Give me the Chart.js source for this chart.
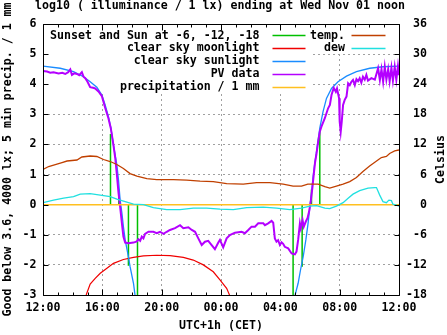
<!DOCTYPE html>
<html>
<head>
<meta charset="utf-8">
<script src="https://cdn.jsdelivr.net/npm/chart.js@4.4.0/dist/chart.umd.min.js"></script>
<style>
  html, body { margin: 0; padding: 0; background: #fff; }
  canvas { display: block; }
</style>
</head>
<body>
<canvas id="chart" width="447" height="335"></canvas>
<script>
// x values are hours after 12:00 CET (0 .. 24)

// sunset / sun at -6, -12, -18 (evening), then -18, -12, -6, sunrise (morning)
const sunEventHours = [4.55, 5.11, 5.76, 6.37, 16.86, 17.47, 18.10, 18.66];
const sunEventValues = [2.35, 0.51, -2.03, -3.3, -3.3, -2.06, 0.50, 2.50];

const moonHours = [2.91, 3.18, 3.52, 3.86, 4.31, 4.75, 5.42, 6.10, 6.77, 7.67, 8.57, 9.46, 10.13, 10.81, 11.48, 11.93, 12.38, 12.60];
const moonValues = [-3.0, -2.64, -2.45, -2.28, -2.11, -1.95, -1.82, -1.75, -1.70, -1.68, -1.69, -1.75, -1.84, -2.0, -2.23, -2.5, -2.78, -3.03];

const sunHours = [0, 1.16, 2.06, 2.73, 3.18, 3.63, 3.97, 4.19, 4.41, 4.58,
  4.75, 4.98, 5.09, 5.20, 5.32, 5.42, 5.54, 5.76, 5.87, 6.10,
  6.21, 11.5, 16.98, 17.20, 17.36, 17.54, 17.72, 17.87, 17.99, 18.10,
  18.21, 18.32, 18.44, 18.66, 18.88, 19.11, 19.45, 19.89, 20.46, 21.13,
  22.03, 22.92, 24.00];
const sunValues = [4.60, 4.53, 4.42, 4.25, 4.08, 3.90, 3.64, 3.31, 2.92, 2.54,
  1.98, 1.32, 0.82, 0.15, -0.28, -0.73, -1.17, -1.73, -2.06, -2.61,
  -3.03, null, -3.03, -2.61, -2.17, -1.73, -1.17, -0.62, -0.07, 0.38,
  0.93, 1.37, 1.76, 2.54, 3.09, 3.53, 3.86, 4.08, 4.27, 4.42,
  4.53, 4.58, 4.60];

const pvHours = [0, 0.27, 0.49, 0.71, 1.05, 1.30, 1.50, 1.70, 1.84, 1.95,
  2.11, 2.29, 2.44, 2.62, 2.73, 2.85, 3.00, 3.18, 3.38, 3.52,
  3.74, 3.97, 4.19, 4.41, 4.57, 4.75, 4.87, 4.98, 5.09, 5.20,
  5.32, 5.42, 5.54, 5.76, 6.10, 6.33, 6.43, 6.55, 6.66, 6.77,
  6.88, 7.11, 7.44, 7.67, 7.89, 8.12, 8.34, 8.56, 8.90, 9.24,
  9.46, 9.80, 10.03, 10.25, 10.47, 10.70, 10.92, 11.14, 11.37, 11.59,
  11.82, 11.93, 12.15, 12.38, 12.60, 12.94, 13.39, 13.61, 13.84, 14.06,
  14.29, 14.51, 14.85, 14.96, 15.18, 15.41, 15.52, 15.63, 15.74, 15.85,
  15.97, 16.08, 16.19, 16.30, 16.53, 16.76, 16.98, 17.09, 17.20, 17.32,
  17.38, 17.50, 17.58, 17.72, 17.83, 17.94, 18.06, 18.17, 18.26, 18.34,
  18.44, 18.55, 18.66, 18.77, 19.00, 19.22, 19.34, 19.45, 19.60, 19.74,
  19.82, 19.96, 20.00, 20.07, 20.14, 20.23, 20.34, 20.46, 20.57, 20.68,
  20.79, 20.90, 21.02, 21.13, 21.24, 21.35, 21.46, 21.57, 21.69, 21.80,
  21.91, 22.14, 22.37, 22.59, 22.71, 22.82, 22.93, 23.04, 23.15, 23.27,
  23.37, 23.49, 23.59, 23.71, 23.82, 23.93, 24.00];
const pvValues = [4.44, 4.42, 4.38, 4.40, 4.36, 4.38, 4.34, 4.40, 4.49, 4.31,
  4.36, 4.34, 4.30, 4.40, 4.25, 4.20, 4.08, 3.90, 3.88, 3.86,
  3.76, 3.60, 3.22, 2.87, 2.54, 1.98, 1.55, 1.00, 0.40, -0.07,
  -0.62, -1.06, -1.26, -1.28, -1.26, -1.22, -1.15, -1.20, -1.06, -1.12,
  -0.97, -0.90, -0.90, -0.95, -0.90, -0.97, -0.90, -0.84, -0.78, -0.68,
  -0.78, -0.75, -0.84, -0.90, -1.12, -1.34, -1.23, -1.20, -1.34, -1.48,
  -1.26, -1.17, -1.42, -1.12, -1.01, -0.93, -0.90, -0.95, -0.84, -0.73,
  -0.73, -0.62, -0.62, -0.68, -0.62, -0.54, -0.60, -1.12, -1.23, -1.18,
  -1.34, -1.25, -1.30, -1.40, -1.45, -1.62, -1.65, -1.56, -1.17, -0.62,
  -0.78, -0.51, -0.73, -0.56, -0.45, -0.23, 0.15, 0.60, 1.04, 1.40,
  1.70, 2.09, 2.42, 2.59, 2.87, 3.20, 3.31, 3.64, 3.88, 3.75,
  3.86, 3.53, 2.76, 2.42, 2.76, 3.31, 3.48, 3.59, 4.03, 3.97,
  4.08, 4.14, 3.97, 4.17, 4.10, 4.20, 4.05, 4.25, 4.15, 4.31,
  4.12, 4.20, 4.15, 4.53, 4.14, 4.50, 4.08, 4.58, 4.15, 4.50,
  4.10, 4.55, 4.12, 4.58, 4.15, 4.60, 4.30];

const precipHours = [0, 6, 12, 18, 24];
const precipValues = [0, 0, 0, 0, 0];

// Celsius, right axis
const tempHours = [0, 0.38, 0.83, 1.28, 1.62, 2.29, 2.62, 3.18, 3.63, 4.08,
  4.53, 4.98, 5.42, 5.87, 6.33, 7.00, 7.67, 8.79, 9.69, 10.59,
  11.48, 12.38, 13.50, 14.40, 15.30, 16.19, 16.86, 17.43, 17.85, 18.55,
  19.00, 19.33, 19.78, 20.23, 20.68, 21.13, 21.57, 22.02, 22.58, 22.81,
  23.15, 23.37, 23.71, 24.00];
const tempValues = [7.0, 7.6, 8.0, 8.4, 8.7, 8.9, 9.5, 9.7, 9.6, 9.0,
  8.6, 8.0, 7.2, 6.2, 5.7, 5.2, 5.0, 5.0, 4.9, 4.7,
  4.6, 4.2, 4.1, 4.4, 4.4, 4.1, 3.7, 3.7, 4.1, 4.1,
  3.6, 3.3, 3.7, 4.1, 4.6, 5.4, 6.6, 7.7, 8.9, 9.4,
  9.6, 10.2, 10.7, 10.9];

const dewHours = [0, 0.71, 1.39, 2.06, 2.51, 3.18, 3.86, 4.53, 4.98, 5.54,
  6.10, 6.77, 7.44, 8.34, 9.24, 10.13, 11.04, 11.93, 12.83, 13.73,
  14.85, 15.75, 16.64, 17.43, 17.99, 18.44, 19.00, 19.33, 19.78, 20.23,
  20.57, 20.90, 21.35, 21.91, 22.36, 22.48, 22.70, 22.92, 23.15, 23.32,
  23.49, 23.59, 23.82, 24.00];
const dewValues = [0.4, 0.9, 1.3, 1.6, 2.1, 2.2, 1.9, 1.6, 1.1, 0.6,
  0.1, 0.0, -0.6, -1.0, -1.0, -0.7, -0.7, -0.9, -1.0, -0.6,
  -0.5, -0.7, -1.0, -0.7, -0.3, -0.2, -0.7, -0.8, -0.3, 0.4,
  1.3, 2.1, 2.8, 3.3, 3.4, 3.4, 1.9, 0.6, 0.4, 0.9,
  0.8, 0.1, -0.1, -0.3];

const xTicks = [0, 4, 8, 12, 16, 20, 24];

const TITLE = 'log10 ( illuminance / 1 lx) ending at Wed Nov 01 noon';
const FONT = { family: '"DejaVu Sans Mono", monospace', size: 11.6, weight: 'bold' };
const CSS_FONT = `bold ${FONT.size}px ${FONT.family}`;
Chart.defaults.font = FONT;
Chart.defaults.color = '#000';

const pts = (xs, ys) => xs.map((x, i) => ({ x, y: ys[i] }));

// vertical impulses from 0 to the value
const sunEventPts = [];
sunEventHours.forEach((h, i) => {
  sunEventPts.push({ x: h, y: 0 }, { x: h, y: sunEventValues[i] }, { x: h, y: null });
});

const line = (label, data, color, width, order, yAxisID) => ({
  label, data, borderColor: color, backgroundColor: color, borderWidth: width,
  pointRadius: 0, fill: false, tension: 0, spanGaps: false, order,
  yAxisID: yAxisID || 'y', clip: 0
});

const datasets = [
  line('Sunset and Sun at -6, -12, -18', sunEventPts, '#00c000', 1.5, 6),
  line('clear sky moonlight', pts(moonHours, moonValues), '#f00000', 1.2, 5),
  line('clear sky sunlight', pts(sunHours, sunValues), '#1a8cff', 1.3, 4),
  line('PV data', pts(pvHours, pvValues), '#b400ff', 2, 3),
  line('precipitation / 1 mm', pts(precipHours, precipValues), '#ffc020', 1.5, 2),
  line('temp.', pts(tempHours, tempValues), '#c04000', 1.3, 1, 'y2'),
  line('dew', pts(dewHours, dewValues), '#20e0e0', 1.3, 0, 'y2')
];

// legend columns: text right-aligned, sample line to its right
const legendCols = [
  { items: [0, 1, 2, 3, 4], textRight: 259.5, lineX: [272.5, 305.5] },
  { items: [5, 6], textRight: 345, lineX: [351.5, 385.5] }
];
const legendTop = 35.5, legendStep = 12.9;

const snap = v => Math.round(v) + 0.5;

const decor = {
  id: 'decor',
  beforeDatasetsDraw(chart) {
    const { ctx, chartArea: a } = chart;
    ctx.save();
    ctx.fillStyle = '#fff';
    ctx.fillRect(a.left + 1, a.top + 1, 312 - a.left - 1, 93 - a.top - 1);
    ctx.fillRect(312, a.top + 1, 80, 54 - a.top - 1);
    ctx.restore();
  },
  afterDatasetsDraw(chart) {
    const { ctx } = chart;
    ctx.save();
    ctx.font = CSS_FONT;
    ctx.textAlign = 'right';
    ctx.textBaseline = 'middle';
    ctx.fillStyle = '#000';
    legendCols.forEach(col => {
      col.items.forEach((di, r) => {
        const ds = chart.data.datasets[di];
        const y = legendTop + r * legendStep;
        ctx.fillText(ds.label, col.textRight, y);
        ctx.strokeStyle = ds.borderColor;
        ctx.lineWidth = 1.3;
        ctx.beginPath();
        ctx.moveTo(col.lineX[0], snap(y - 0.5));
        ctx.lineTo(col.lineX[1], snap(y - 0.5));
        ctx.stroke();
      });
    });
    ctx.restore();
  },
  afterDraw(chart) {
    const { ctx, chartArea: a, scales } = chart;
    const L = snap(a.left), R = snap(a.right), T = snap(a.top), B = snap(a.bottom);
    ctx.save();
    ctx.strokeStyle = '#000';
    ctx.lineWidth = 1;
    ctx.beginPath();
    // inward tick marks, x mirrored on top
    for (let h = 0; h <= 24; h++) {
      const x = snap(scales.x.getPixelForValue(h));
      const len = xTicks.includes(h) ? 6 : 3;
      ctx.moveTo(x, B); ctx.lineTo(x, B - len);
      ctx.moveTo(x, T); ctx.lineTo(x, T + len);
    }
    scales.y.ticks.forEach(t => {
      const y = snap(scales.y.getPixelForValue(t.value));
      ctx.moveTo(L, y); ctx.lineTo(L + 5, y);
    });
    scales.y2.ticks.forEach(t => {
      const y = snap(scales.y2.getPixelForValue(t.value));
      ctx.moveTo(R, y); ctx.lineTo(R - 5, y);
    });
    ctx.rect(L, T, R - L, B - T);
    ctx.stroke();

    ctx.font = CSS_FONT;
    ctx.fillStyle = '#000';
    ctx.textAlign = 'center';
    ctx.textBaseline = 'alphabetic';
    ctx.fillText(TITLE, 220, 9);

    // right axis title, reading upwards
    ctx.translate(441, (a.top + a.bottom) / 2);
    ctx.rotate(-Math.PI / 2);
    ctx.textBaseline = 'middle';
    ctx.fillText('Celsius', 0, 0);
    ctx.restore();
  }
};

new Chart(document.getElementById('chart'), {
  type: 'line',
  data: { datasets },
  options: {
    responsive: false,
    animation: false,
    devicePixelRatio: 1,
    events: [],
    layout: { padding: { top: 24, right: 20, left: 0, bottom: 0 } },
    plugins: {
      legend: { display: false },
      tooltip: { enabled: false },
      title: { display: false }
    },
    scales: {
      x: {
        type: 'linear', min: 0, max: 24,
        afterBuildTicks: s => { s.ticks = xTicks.map(v => ({ value: v })); },
        ticks: {
          autoSkip: false, maxRotation: 0, padding: 6,
          callback: v => String((12 + v) % 24).padStart(2, '0') + ':00'
        },
        grid: { color: '#a0a0a0', drawTicks: false },
        border: { display: false, dash: [2, 3] },
        title: { display: true, text: 'UTC+1h (CET)', padding: { top: 0, bottom: 2 } },
        afterFit: s => { s.height = 40; }
      },
      y: {
        position: 'left', min: -3, max: 6,
        ticks: { stepSize: 1, padding: 6.5 },
        grid: { color: '#a0a0a0', drawTicks: false },
        border: { display: false, dash: [2, 3] },
        title: {
          display: true,
          text: 'Good below 3.6, 4000 lx; 5 min precip. / 1 mm',
          padding: { top: 1.5, bottom: 0 }
        },
        afterFit: s => { s.width = 43; }
      },
      y2: {
        position: 'right', min: -18, max: 36,
        ticks: { stepSize: 6, padding: 6.5, crossAlign: 'far' },
        grid: { display: false, drawTicks: false },
        border: { display: false },
        afterFit: s => { s.width = 28; }
      }
    }
  },
  plugins: [decor]
});
</script>
</body>
</html>
